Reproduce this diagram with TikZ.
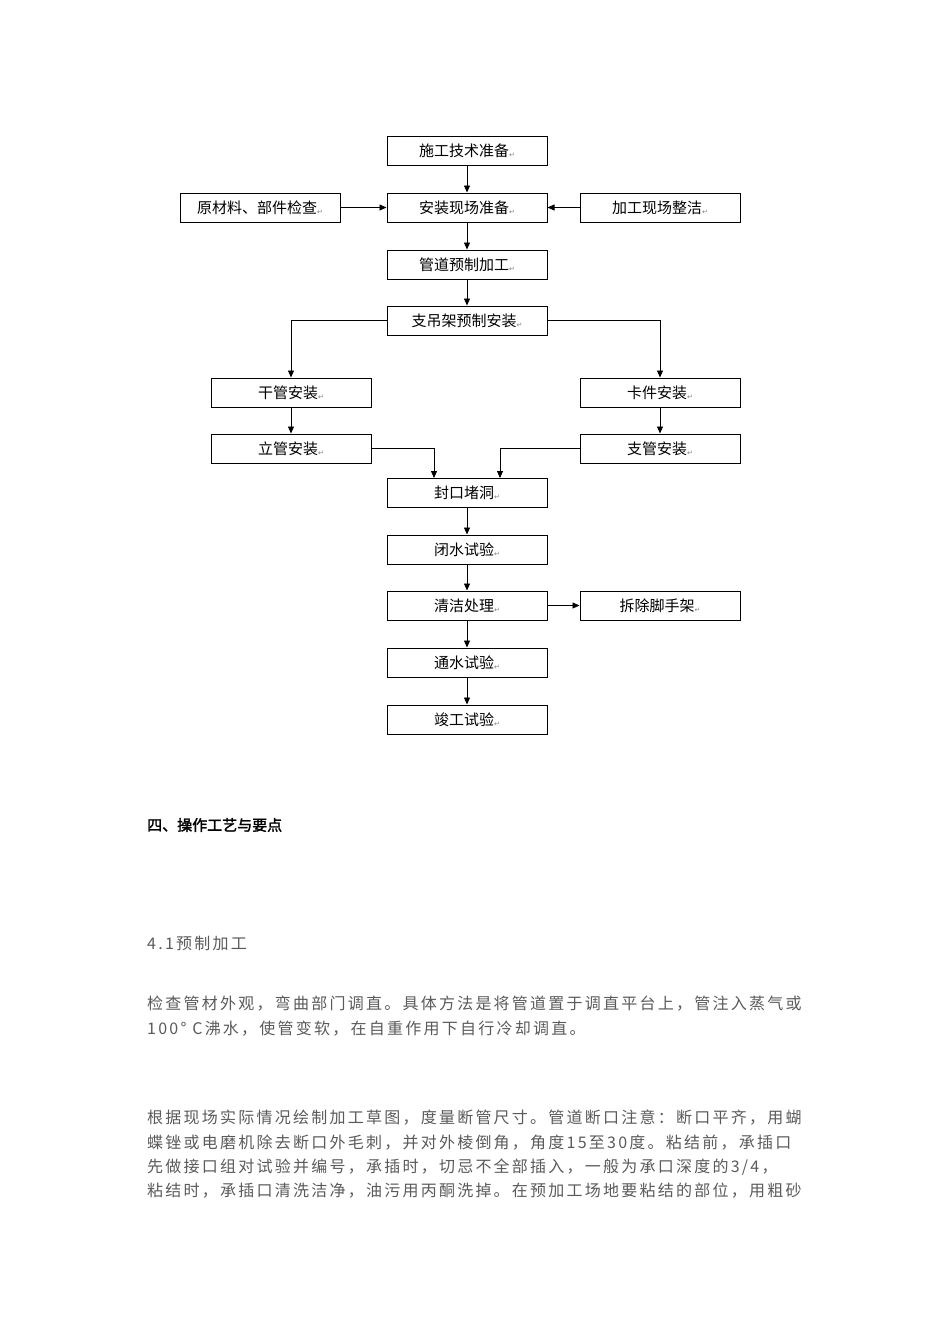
\documentclass[tikz,border=0pt]{standalone}
\usepackage{fontspec}
\setmainfont{Liberation Serif}
\newfontfamily\cjk{Noto Sans CJK SC}
\newfontfamily\cjkb{Noto Sans CJK SC}[FakeBold=2]
\newfontfamily\cjkt{Noto Sans CJK SC}[LetterSpace=14]
\newfontfamily\djvfont{DejaVu Sans}
\usetikzlibrary{arrows.meta}
\definecolor{txt}{RGB}{90,90,90}
\newcommand{\rt}{{\djvfont\fontsize{7}{7}\selectfont\color{gray}\raisebox{-1pt}{↵}}}
\tikzset{
 bx/.style={draw,line width=1pt,minimum width=160pt,minimum height=29pt,inner sep=0pt,font=\cjk\fontsize{15}{15}\selectfont},
 ar/.style={line width=0.8pt,-{Triangle[length=7pt,width=6pt]}},
 ln/.style={anchor=west,inner sep=0pt,font=\cjkt\fontsize{16}{16}\selectfont,text=txt}
}
\begin{document}
\begin{tikzpicture}[x=1pt,y=-1pt]
\useasboundingbox (0,0) rectangle (950,1344);
\node[bx] (a) at (467,150.5) {施工技术准备\rt};
\node[bx] (b) at (467,207.5) {安装现场准备\rt};
\node[bx] (bl) at (260,207.5) {原材料、部件检查\rt};
\node[bx] (br) at (660,207.5) {加工现场整洁\rt};
\node[bx] (c) at (467,264.5) {管道预制加工\rt};
\node[bx] (d) at (467,320.5) {支吊架预制安装\rt};
\node[bx] (e1) at (291,392.5) {干管安装\rt};
\node[bx] (e2) at (660,392.5) {卡件安装\rt};
\node[bx] (f1) at (291,448.5) {立管安装\rt};
\node[bx] (f2) at (660,448.5) {支管安装\rt};
\node[bx] (g) at (467,492.5) {封口堵洞\rt};
\node[bx] (h) at (467,549.5) {闭水试验\rt};
\node[bx] (i) at (467,605.5) {清洁处理\rt};
\node[bx] (ir) at (660,605.5) {拆除脚手架\rt};
\node[bx] (j) at (467,662.5) {通水试验\rt};
\node[bx] (k) at (467,719.5) {竣工试验\rt};
\draw[ar] (a) -- (b);
\draw[ar] (bl) -- (b);
\draw[ar] (br) -- (b);
\draw[ar] (b) -- (c);
\draw[ar] (c) -- (d);
\draw[ar] (d.west) -| (e1.north);
\draw[ar] (d.east) -| (e2.north);
\draw[ar] (e1) -- (f1);
\draw[ar] (e2) -- (f2);
\draw[ar] (f1.east) -| (434,478);
\draw[ar] (f2.west) -| (500,478);
\draw[ar] (g) -- (h);
\draw[ar] (h) -- (i);
\draw[ar] (i) -- (ir);
\draw[ar] (i) -- (j);
\draw[ar] (j) -- (k);
\node[anchor=west,inner sep=0pt,font=\cjkb\fontsize{15}{15}\selectfont] (t0) at (147,825) {四、操作工艺与要点};
\node[ln] (t1) at (147,943) {4.1预制加工};
\node[ln] (p1) at (147,1004) {检查管材外观，弯曲部门调直。具体方法是将管道置于调直平台上，管注入蒸气或};
\node[ln] (p2) at (147,1029) {100° C沸水，使管变软，在自重作用下自行冷却调直。};
\node[ln] (q1) at (147,1118) {根据现场实际情况绘制加工草图，度量断管尺寸。管道断口注意：断口平齐，用蝴};
\node[ln] (q2) at (147,1143) {蝶锉或电磨机除去断口外毛刺，并对外棱倒角，角度15至30度。粘结前，承插口};
\node[ln] (q3) at (147,1167) {先做接口组对试验并编号，承插时，切忌不全部插入，一般为承口深度的3/4，};
\node[ln] (q4) at (147,1191) {粘结时，承插口清洗洁净，油污用丙酮洗掉。在预加工场地要粘结的部位，用粗砂};
\end{tikzpicture}
\end{document}
